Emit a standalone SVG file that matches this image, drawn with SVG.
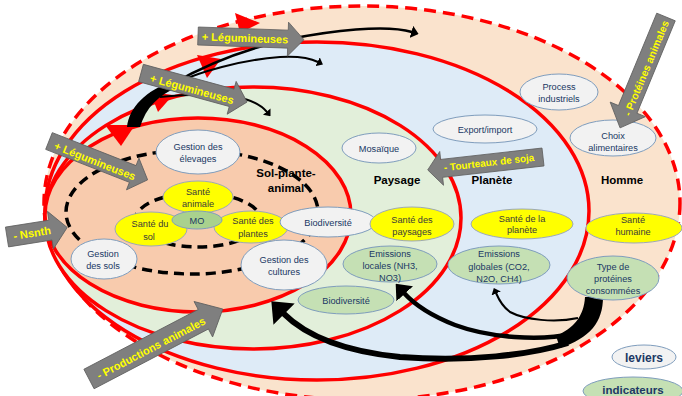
<svg xmlns="http://www.w3.org/2000/svg" width="682" height="396" viewBox="0 0 682 396">
<defs>
<style>
.ring{stroke:#FF0000;stroke-width:3.5}
.dsh{fill:none;stroke:#000;stroke-width:3.5;stroke-dasharray:10 6}
.nd{fill:#F2F2F2;stroke:#7F9DBD;stroke-width:1}
.ys{fill:#FFFF00;stroke:#9DA9B5;stroke-width:1}
.gr{fill:#C5E0B4;stroke:#7F9DBD;stroke-width:1}
.mo{fill:#A9D18E;stroke:#7F9DBD;stroke-width:1}
.t{font-family:"Liberation Sans",Arial,sans-serif;font-size:9.2px;fill:#203864;text-anchor:middle}
.ty{fill:#3A3A3A}
.lb{font-family:"Liberation Sans",Arial,sans-serif;font-weight:bold;font-size:11.5px;fill:#000;text-anchor:middle}
.lg{font-family:"Liberation Sans",Arial,sans-serif;font-weight:bold;font-size:12px;fill:#203864;text-anchor:middle}
.lev{fill:#7F7F7F;stroke:#5F5F5F;stroke-width:0.8}
.lt{font-family:"Liberation Sans",Arial,sans-serif;font-weight:bold;font-size:11px;fill:#FFFF00;text-anchor:middle}
.cv{fill:none;stroke:#000;marker-end:url(#ah)}
.tri{fill:#FF0000}
</style>
<marker id="ah" viewBox="0 0 6 10" markerWidth="3" markerHeight="5" refX="0.5" refY="5" orient="auto" markerUnits="strokeWidth">
<path d="M0,0 L6,5 L0,10 Z" fill="#000"/>
</marker>
</defs>
<rect width="682" height="396" fill="#FFFFFF"/>

<g id="rings">
<ellipse id="ring-homme" cx="362" cy="203" rx="318" ry="197" fill="#FAE3CD" stroke="#FF0000" stroke-width="3.5" stroke-dasharray="12 7"/>
<ellipse id="ring-planete" class="ring" cx="317" cy="211" rx="272" ry="169" fill="#DEEBF7"/>
<ellipse id="ring-paysage" class="ring" cx="253" cy="218" rx="208" ry="131" fill="#E2EFDA"/>
<ellipse id="ring-sol" class="ring" cx="198" cy="215" rx="153" ry="97" fill="#F8CBAD"/>
<ellipse class="dsh" cx="192" cy="212" rx="126" ry="62"/>
<ellipse class="dsh" cx="198" cy="220" rx="63" ry="27"/>
</g>

<g id="region-labels">
<text class="lb" x="286" y="177">Sol-plante-</text>
<text class="lb" x="286" y="192">animal</text>
<text class="lb" x="397" y="184">Paysage</text>
<text class="lb" x="492" y="184">Planète</text>
<text class="lb" x="622" y="184">Homme</text>
</g>

<g id="connectors">
<polygon class="tri" points="235,13 260,23 240,33"/>
<polygon class="tri" points="197,55 221,59 207,78"/>
<polygon class="tri" points="150,92 173,95 158,112"/>
<polygon class="tri" points="105,125 135,125 121,146"/>
<path d="M127,127 C129,108 145,90 176,80 L178,87 C158,95 146,108 140,127 Z" fill="#000"/>
<path class="cv" stroke-width="2.5" d="M172,84 C200,68 240,50 290,39 C330,31 385,24 412,32"/>
<path class="cv" stroke-width="2" d="M175,83 C200,72 240,60 280,57 C298,56 310,58 318,62"/>
<path class="cv" stroke-width="2" d="M160,97 C190,94 220,93 245,99 C255,102 262,106 267,112"/>
<path d="M585,297 L603,297 C603,322 590,338 560,348 L556,336 C574,328 584,316 585,297 Z" fill="#000"/>
<path class="cv" stroke-width="2" d="M578,318 C555,323 525,320 510,312 C503,307 499,300 496,293"/>
<path class="cv" stroke-width="4.5" d="M572,334 C540,341 490,338 455,325 C432,316 414,304 404,293"/>
<path class="cv" stroke-width="6" d="M568,343 C530,355 470,362 400,357 C350,352 308,338 283,313"/>
</g>

<g id="n-gestion-elevages"><ellipse class="nd" cx="198" cy="152" rx="42" ry="22"/><text class="t" x="198" y="149.5">Gestion des</text><text class="t" x="198" y="161.5">élevages</text></g>
<g id="n-sante-animale"><ellipse class="ys" cx="198" cy="197" rx="35" ry="16"/><text class="t ty" x="198" y="195">Santé</text><text class="t ty" x="198" y="207">animale</text></g>
<g id="n-sante-sol"><ellipse class="ys" cx="151" cy="229" rx="36" ry="17"/><text class="t ty" x="150" y="226.5">Santé du</text><text class="t ty" x="149" y="240">sol</text></g>
<g id="n-sante-plantes"><ellipse class="ys" cx="251" cy="227" rx="37" ry="16"/><text class="t ty" x="253" y="223.5">Santé des</text><text class="t ty" x="253" y="236.5">plantes</text></g>
<g id="n-mo"><ellipse class="mo" cx="197" cy="220" rx="25" ry="9"/><text class="t" x="197" y="223.5">MO</text></g>
<g id="n-biodiversite-1"><ellipse class="nd" cx="328" cy="222" rx="48" ry="15"/><text class="t" x="328" y="225.5">Biodiversité</text></g>
<g id="n-sante-paysages"><ellipse class="ys" cx="412" cy="224" rx="42" ry="17"/><text class="t ty" x="412" y="222.5">Santé des</text><text class="t ty" x="412" y="235">paysages</text></g>
<g id="n-gestion-cultures"><ellipse class="nd" cx="284" cy="265" rx="43" ry="25"/><text class="t" x="284" y="262.5">Gestion des</text><text class="t" x="284" y="274.5">cultures</text></g>
<g id="n-gestion-sols"><ellipse class="nd" cx="104" cy="259" rx="33" ry="20"/><text class="t" x="103" y="256.5">Gestion</text><text class="t" x="103" y="268.5">des sols</text></g>
<g id="n-emissions-locales"><ellipse class="gr" cx="390" cy="264" rx="47" ry="18"/><text class="t" x="390" y="256.5">Emissions</text><text class="t" x="390" y="269">locales (NH3,</text><text class="t" x="390" y="280.5">NO3)</text></g>
<g id="n-biodiversite-2"><ellipse class="gr" cx="346" cy="300" rx="48" ry="14"/><text class="t" x="346" y="303.5">Biodiversité</text></g>
<g id="n-emissions-globales"><ellipse class="gr" cx="499" cy="265" rx="51" ry="19"/><text class="t" x="499" y="256.5">Emissions</text><text class="t" x="499" y="269.5">globales (CO2,</text><text class="t" x="499" y="281.5">N2O, CH4)</text></g>
<g id="n-sante-planete"><ellipse class="ys" cx="522" cy="224" rx="51" ry="15"/><text class="t ty" x="522" y="221.5">Santé de la</text><text class="t ty" x="522" y="233">planète</text></g>
<g id="n-sante-humaine"><ellipse class="ys" cx="634" cy="228" rx="48" ry="15"/><text class="t ty" x="633" y="222.5">Santé</text><text class="t ty" x="633" y="234.5">humaine</text></g>
<g id="n-type-proteines"><ellipse class="gr" cx="613" cy="278" rx="46" ry="22"/><text class="t" x="613" y="269.5">Type de</text><text class="t" x="613" y="281.5">protéines</text><text class="t" x="613" y="293.5">consommées</text></g>
<g id="n-mosaique"><ellipse class="nd" cx="379" cy="148" rx="37" ry="15"/><text class="t" x="379" y="151.5">Mosaïque</text></g>
<g id="n-export-import"><ellipse class="nd" cx="485" cy="129" rx="52" ry="14"/><text class="t" x="485" y="132.5">Export/import</text></g>
<g id="n-process"><ellipse class="nd" cx="559" cy="92" rx="39" ry="18"/><text class="t" x="559" y="90">Process</text><text class="t" x="559" y="102">industriels</text></g>
<g id="n-choix"><ellipse class="nd" cx="613" cy="138" rx="43" ry="18"/><text class="t" x="613" y="139">Choix</text><text class="t" x="613" y="151">alimentaires</text></g>

<g id="lever-legumineuses-1"><polygon class="lev" transform="translate(198,36) rotate(2)" points="0,-9 90,-9 90,-17 106,0 90,17 90,9 0,9"/><text class="lt" transform="translate(245,38) rotate(2)" y="4">+ Légumineuses</text></g>
<g id="lever-legumineuses-2"><polygon class="lev" transform="translate(141,73) rotate(15.3)" points="0,-9 94,-9 94,-17 110,0 94,17 94,9 0,9"/><text class="lt" transform="translate(192,89) rotate(15.3)" y="4">+ Légumineuses</text></g>
<g id="lever-legumineuses-3"><polygon class="lev" transform="translate(49,141) rotate(21.5)" points="0,-9 90,-9 90,-17 106,0 90,17 90,9 0,9"/><text class="lt" transform="translate(95,161) rotate(21.5)" y="4">+ Légumineuses</text></g>
<g id="lever-nsnth"><polygon class="lev" transform="translate(7,237) rotate(-9)" points="0,-10 44,-10 44,-19 61,0 44,19 44,10 0,10"/><text class="lt" transform="translate(32,233) rotate(-9)" y="4">- Nsnth</text></g>
<g id="lever-productions"><polygon class="lev" transform="translate(89,379) rotate(-27.6)" points="0,-11 129,-11 129,-20 151,0 129,20 129,11 0,11"/><text class="lt" transform="translate(151,348) rotate(-27.6)" y="4">- Productions animales</text></g>
<g id="lever-tourteaux"><polygon class="lev" transform="translate(543,157) rotate(173.6)" points="0,-9 102,-9 102,-17 116,0 102,17 102,9 0,9"/><text class="lt" style="font-size:10px" transform="translate(489,162) rotate(-6.5)" y="4">- Tourteaux de soja</text></g>
<g id="lever-proteines"><polygon class="lev" transform="translate(666,17) rotate(112.5)" points="0,-10 100,-10 100,-19 120,0 100,19 100,10 0,10"/><text class="lt" style="font-size:10.5px" transform="translate(646,68) rotate(-67.5)" y="4">- Protéines animales</text></g>

<g id="legend-leviers"><ellipse class="nd" cx="644" cy="357" rx="32" ry="12"/><text class="lg" x="644" y="361.5">leviers</text></g>
<g id="legend-indicateurs"><ellipse class="gr" cx="633" cy="391" rx="50" ry="14"/><text class="lg" style="font-size:11.5px" x="633" y="394">indicateurs</text></g>
</svg>
